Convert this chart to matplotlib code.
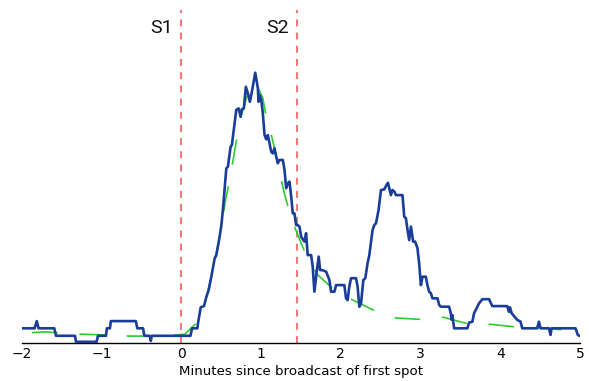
import matplotlib
matplotlib.use("Agg")
import matplotlib.pyplot as plt
import matplotlib.transforms as mtransforms
import numpy as np

plt.rcParams['lines.scale_dashes'] = False

# ---- data (minutes since first spot, relative level) ----
blue_x = [-2.0, -1.842, -1.815, -1.792, -1.595, -1.573, -1.335, -1.323, -1.064, -1.048,
          -0.947, -0.935, -0.897, -0.885, -0.572, -0.553, -0.481, -0.466, -0.397, -0.384,
          -0.372, 0.113, 0.133, 0.200, 0.208, 0.242, 0.283, 0.313, 0.342, 0.375,
          0.417, 0.438, 0.479, 0.501, 0.521, 0.563, 0.583, 0.617, 0.633, 0.667,
          0.688, 0.717, 0.742, 0.758, 0.783, 0.808, 0.834, 0.859, 0.884, 0.926,
          0.959, 0.967, 0.980, 1.001, 1.021, 1.043, 1.064, 1.084, 1.105, 1.126,
          1.146, 1.168, 1.189, 1.209, 1.230, 1.272, 1.293, 1.314, 1.334, 1.355,
          1.377, 1.397, 1.418, 1.439, 1.459, 1.481, 1.502, 1.543, 1.564, 1.584,
          1.627, 1.647, 1.668, 1.697, 1.722, 1.740, 1.765, 1.815, 1.856, 1.877,
          1.919, 1.940, 2.044, 2.065, 2.085, 2.106, 2.128, 2.190, 2.210, 2.232,
          2.253, 2.282, 2.307, 2.335, 2.357, 2.398, 2.419, 2.441, 2.473, 2.503,
          2.544, 2.573, 2.591, 2.607, 2.628, 2.648, 2.673, 2.691, 2.773, 2.795,
          2.816, 2.836, 2.857, 2.879, 2.891, 2.907, 2.932, 2.961, 2.982, 3.004,
          3.024, 3.066, 3.086, 3.108, 3.129, 3.149, 3.212, 3.233, 3.254, 3.358,
          3.379, 3.392, 3.399, 3.421, 3.587, 3.608, 3.650, 3.671, 3.712, 3.733,
          3.775, 3.859, 3.900, 4.088, 4.109, 4.121, 4.143, 4.213, 4.255, 4.275,
          4.463, 4.484, 4.506, 4.610, 4.631, 4.643, 4.944, 4.972, 5.0]
blue_y = [4.9, 4.9, 7.3, 4.9, 4.9, 2.4, 2.4, 0.4, 0.4, 2.4,
          2.4, 4.9, 4.9, 7.3, 7.3, 4.9, 4.9, 2.4, 2.4, 0.7,
          2.4, 2.4, 4.9, 4.9, 6.6, 11.9, 12.3, 15.4, 17.7, 22.1,
          28.2, 29.3, 35.4, 39.3, 44.6, 58.2, 58.8, 65.4, 66.0, 73.2,
          77.7, 78.2, 75.4, 77.9, 78.2, 85.4, 83.2, 80.4, 83.8, 90.1,
          84.9, 80.4, 82.7, 81.2, 76.6, 69.3, 67.9, 69.3, 66.6, 63.8,
          63.2, 64.9, 62.1, 59.9, 61.0, 61.0, 57.7, 51.6, 53.2, 53.8,
          48.8, 43.2, 43.2, 39.3, 39.3, 38.8, 35.4, 33.8, 36.6, 29.3,
          29.3, 25.4, 17.1, 23.8, 28.8, 24.3, 24.3, 23.8, 21.0, 17.1,
          17.1, 19.3, 19.3, 14.9, 14.3, 18.8, 21.6, 21.6, 18.8, 12.1,
          13.2, 21.0, 21.6, 26.6, 29.3, 37.7, 39.3, 39.9, 44.3, 51.0,
          51.2, 52.7, 53.4, 51.6, 49.3, 51.0, 50.4, 49.3, 49.3, 42.1,
          41.6, 37.7, 34.3, 38.8, 36.6, 33.8, 33.8, 31.6, 26.6, 19.3,
          22.1, 22.1, 19.3, 17.1, 16.6, 14.9, 14.9, 12.7, 12.1, 12.1,
          9.9, 7.7, 9.3, 4.9, 4.9, 6.8, 7.1, 9.9, 12.1, 13.2,
          14.6, 14.6, 12.3, 12.3, 10.4, 11.9, 9.9, 7.7, 7.1, 4.9,
          4.9, 7.1, 4.9, 4.9, 2.7, 4.9, 4.9, 2.7, 2.3]

green_x = [-2.0, -1.698, -1.348, -0.960, -0.647, -0.297, 0.041, 0.229, 0.292, 0.379,
           0.479, 0.554, 0.617, 0.680, 0.742, 0.817, 0.880, 0.930, 1.021, 1.064,
           1.118, 1.168, 1.209, 1.252, 1.302, 1.355, 1.418, 1.502, 1.584, 1.710,
           1.897, 2.128, 2.390, 2.657, 2.982, 3.283, 3.567, 3.846, 4.180, 4.484,
           4.831, 5.0]
green_y = [3.3, 3.7, 3.0, 2.7, 2.3, 2.3, 2.9, 7.7, 12.7, 22.7,
           35.3, 47.7, 56.0, 66.0, 75.0, 81.7, 86.0, 87.0, 81.6, 75.4,
           70.4, 64.9, 59.9, 54.3, 48.8, 43.8, 38.8, 33.2, 28.2, 22.7,
           18.2, 14.6, 11.2, 8.4, 7.9, 8.6, 6.6, 6.3, 5.4, 5.1,
           4.3, 4.2]

spot_times = [0.0, 1.45]
spot_labels = ["S1", "S2"]
xticks = [-2, -1, 0, 1, 2, 3, 4, 5]
xlabel = "Minutes since broadcast of first spot"

# ---- figure ----
DPI = 100
fig = plt.figure(figsize=(5.89, 3.81), dpi=DPI)
ax = fig.add_axes([22 / 589, 38 / 381, 558 / 589, 333 / 381])
ax.set_xlim(-2, 5)
ax.set_ylim(0, 111)

# dash phase: align a dash start with the tail of the smoothed curve
dash_on, dash_off = 18.4, 15.8
period = dash_on + dash_off
pts = ax.transData.transform(np.column_stack([green_x, green_y]))
seg = np.hypot(np.diff(pts[:, 0]), np.diff(pts[:, 1]))
cum = np.concatenate([[0], np.cumsum(seg)]) * 72.0 / DPI
anchor = cum[green_x.index(2.128)]
offset = (-anchor) % period

ax.plot(green_x, green_y, color="#2ecc2e", lw=1.2, zorder=2,
        linestyle=(offset, (dash_on, dash_off)))
ax.plot(blue_x, blue_y, color="#1a3d9a", lw=1.9, zorder=3)

trans = mtransforms.blended_transform_factory(ax.transData, ax.transAxes)
for t, lab in zip(spot_times, spot_labels):
    ax.axvline(t, color="#f07a7a", lw=1.5, dashes=(5, 4.5), zorder=1)
    ax.annotate(lab, xy=(t, 0.946), xycoords=trans, xytext=(-6, 0),
                textcoords="offset points", ha="right", va="center",
                fontsize=14, family="Roboto", color="#111111")

ax.set_xticks(xticks)
ax.set_xticklabels([str(v).replace("-", "\u2212") for v in xticks], fontsize=10)
ax.tick_params(axis="x", length=0, pad=3)
ax.set_yticks([])
for s in ["top", "right", "left"]:
    ax.spines[s].set_visible(False)
ax.spines["bottom"].set_linewidth(1.0)
ax.set_xlabel(xlabel, fontsize=9.6, labelpad=2.5)

fig.savefig("out.png", dpi=DPI)
